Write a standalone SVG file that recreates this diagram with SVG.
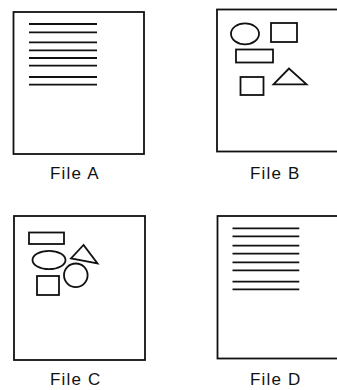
<svg xmlns="http://www.w3.org/2000/svg" width="337" height="390" viewBox="0 0 337 390">
<style>
.page{fill:#fff;stroke:#111;stroke-width:1.8}
.ln{stroke:#111;stroke-width:1.8}
.sh{fill:none;stroke:#111;stroke-width:1.8}
.lbl{font-family:"Liberation Sans",Arial,sans-serif;font-size:17px;letter-spacing:1.2px;fill:#111}
</style>
<rect width="337" height="390" fill="#fff"/>
<g id="fileA">
<rect class="page" x="13.5" y="12" width="130.5" height="142"/>
<g class="ln">
<line x1="29" y1="24" x2="97" y2="24"/>
<line x1="29" y1="32.3" x2="97" y2="32.3"/>
<line x1="29" y1="42.3" x2="97" y2="42.3"/>
<line x1="29" y1="50.3" x2="97" y2="50.3"/>
<line x1="29" y1="58" x2="97" y2="58"/>
<line x1="29" y1="65.7" x2="97" y2="65.7"/>
<line x1="29" y1="77" x2="97" y2="77"/>
<line x1="29" y1="84.7" x2="97" y2="84.7"/>
</g>
<text class="lbl" x="50" y="178.5">File A</text>
</g>
<g id="fileB">
<rect class="page" x="217" y="9.5" width="135" height="142"/>
<ellipse class="sh" cx="245" cy="33.8" rx="14" ry="10.5"/>
<rect class="sh" x="271" y="23" width="26" height="19"/>
<rect class="sh" x="236" y="49.5" width="37" height="13"/>
<rect class="sh" x="240.5" y="77" width="23" height="18"/>
<polygon class="sh" points="289,68.5 273.5,84.3 306.5,84.3"/>
<text class="lbl" x="250" y="178.5">File B</text>
</g>
<g id="fileC">
<rect class="page" x="14" y="216" width="131" height="144"/>
<rect class="sh" x="29" y="232.5" width="35" height="11.5"/>
<ellipse class="sh" cx="49" cy="260" rx="16.5" ry="9.2"/>
<polygon class="sh" points="83.5,245 71,258.5 97.5,263.5"/>
<circle class="sh" cx="75.8" cy="275.3" r="11.8"/>
<rect class="sh" x="37" y="276" width="22" height="19"/>
<text class="lbl" x="50" y="385">File C</text>
</g>
<g id="fileD">
<rect class="page" x="217.5" y="216" width="135" height="142.5"/>
<g class="ln">
<line x1="232.5" y1="228.3" x2="299.3" y2="228.3"/>
<line x1="232.5" y1="236.3" x2="299.3" y2="236.3"/>
<line x1="232.5" y1="245.7" x2="299.3" y2="245.7"/>
<line x1="232.5" y1="253.7" x2="299.3" y2="253.7"/>
<line x1="232.5" y1="262.3" x2="299.3" y2="262.3"/>
<line x1="232.5" y1="270.3" x2="299.3" y2="270.3"/>
<line x1="232.5" y1="281.7" x2="299.3" y2="281.7"/>
<line x1="232.5" y1="289.3" x2="299.3" y2="289.3"/>
</g>
<text class="lbl" x="250" y="385">File D</text>
</g>
<g id="connectors"/>
</svg>
